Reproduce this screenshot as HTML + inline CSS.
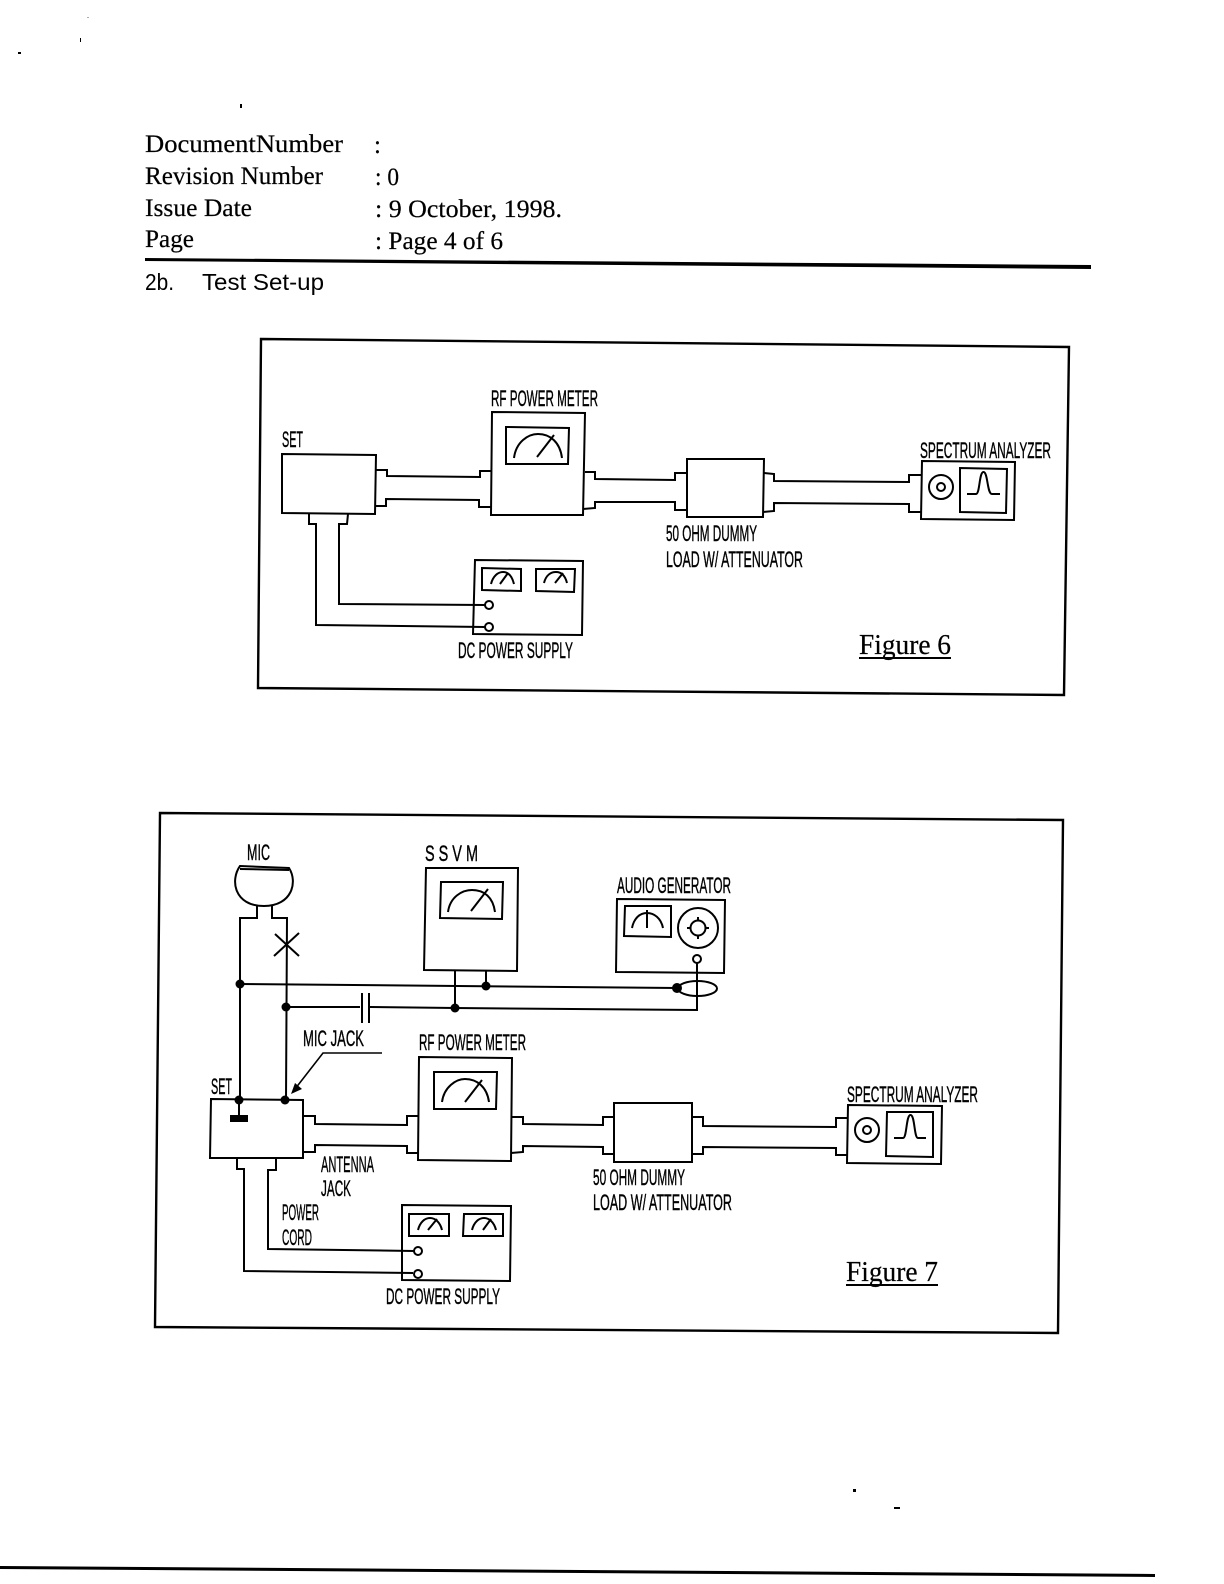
<!DOCTYPE html>
<html>
<head>
<meta charset="utf-8">
<style>
html,body{margin:0;padding:0;background:#fff;width:1224px;height:1584px;overflow:hidden}
svg{display:block}
.l{fill:none;stroke:#000;stroke-width:2;stroke-linejoin:miter}
.f{fill:none;stroke:#000;stroke-width:2.4}
.t{fill:#fff;stroke:#000;stroke-width:2}
.d{fill:#000}
.c{font-family:"Liberation Sans",sans-serif;font-size:22px;fill:#000;stroke:#000;stroke-width:.4}
.s{font-family:"Liberation Serif",serif;font-size:25px;fill:#000;stroke:#000;stroke-width:.2}
.a{font-family:"Liberation Sans",sans-serif;font-size:23px;fill:#000}
</style>
</head>
<body>
<svg width="1224" height="1584" viewBox="0 0 1224 1584" xmlns="http://www.w3.org/2000/svg">
<rect width="1224" height="1584" fill="#fff"/>

<!-- specks -->
<g class="d">
<rect x="87" y="17" width="2" height="1" fill="#aaa"/>
<rect x="80" y="38" width="1" height="4"/>
<rect x="18" y="52" width="3" height="2"/>
<rect x="240" y="104" width="2" height="4"/>
<rect x="853" y="1489" width="3" height="3"/>
<rect x="894" y="1507" width="6" height="2"/>
</g>

<!-- header -->
<text class="s" x="145" y="152" textLength="198" lengthAdjust="spacingAndGlyphs">DocumentNumber</text>
<text class="s" x="145" y="184" textLength="178" lengthAdjust="spacingAndGlyphs">Revision Number</text>
<text class="s" x="145" y="216" textLength="107" lengthAdjust="spacingAndGlyphs">Issue Date</text>
<text class="s" x="145" y="247" textLength="49" lengthAdjust="spacingAndGlyphs">Page</text>
<text class="s" x="374" y="153">:</text>
<text class="s" x="375" y="185" textLength="24" lengthAdjust="spacingAndGlyphs">: 0</text>
<text class="s" x="375" y="217" textLength="187" lengthAdjust="spacingAndGlyphs">: 9 October, 1998.</text>
<text class="s" x="375" y="249" textLength="128" lengthAdjust="spacingAndGlyphs">: Page 4 of 6</text>
<polygon class="d" points="145,258 1091,265 1091,269 145,261"/>
<text class="a" x="145" y="290" textLength="29" lengthAdjust="spacingAndGlyphs">2b.</text>
<text class="a" x="202" y="290" textLength="122" lengthAdjust="spacingAndGlyphs">Test Set-up</text>

<!-- FIGURE 6 -->
<polygon class="f" points="261,339 1069,347 1064,695 258,688"/>

<text class="c" x="282" y="447" textLength="21" lengthAdjust="spacingAndGlyphs">SET</text>
<polygon class="l" points="282,454 376,455 375,514 282,513"/>
<polyline class="l" points="376,470 387,470 387,476 480,477 480,471 491,471"/>
<polyline class="l" points="376,506 386,506 386,499 479,500 479,507 491,507"/>

<text class="c" x="491" y="406" textLength="107" lengthAdjust="spacingAndGlyphs">RF POWER METER</text>
<polygon class="l" points="492,412 585,413 583,515 491,515"/>
<polygon class="l" points="506,427 569,428 568,464 506,464"/>
<path class="l" d="M514,458 C516,442 528,434 538,434 C550,434 560,442 562,458"/>
<line class="l" x1="537" y1="457" x2="554" y2="435"/>

<polyline class="l" points="585,472 595,472 595,479 675,480 675,473 687,473"/>
<polyline class="l" points="583,509 595,508 595,502 675,502 675,510 687,510"/>
<polygon class="l" points="687,459 764,459 763,517 687,517"/>
<text class="c" x="666" y="541" textLength="91" lengthAdjust="spacingAndGlyphs">50 OHM DUMMY</text>
<text class="c" x="666" y="567" textLength="137" lengthAdjust="spacingAndGlyphs">LOAD W/ ATTENUATOR</text>

<polyline class="l" points="764,473 774,474 774,481 909,482 909,475 921,475"/>
<polyline class="l" points="763,512 774,511 774,503 909,504 909,512 921,512"/>

<text class="c" x="920" y="458" textLength="131" lengthAdjust="spacingAndGlyphs">SPECTRUM ANALYZER</text>
<polygon class="l" points="922,461 1015,462 1014,520 921,519"/>
<circle class="l" cx="941" cy="487" r="12"/>
<circle class="l" cx="941" cy="487" r="4"/>
<polygon class="l" points="960,468 1007,469 1006,513 960,512"/>
<path class="l" d="M967,494 L976,494 C980,494 979,472 983.5,472 C988,472 987,494 992,494 L1000,494"/>

<polygon class="l" points="475,560 583,561 582,635 473,634"/>
<polygon class="l" points="482,568 521,569 521,591 482,590"/>
<polygon class="l" points="536,569 575,569 574,592 536,591"/>
<path class="l" d="M491,584 C493,576 498,572 503,572 C508,572 512,576 514,584"/>
<line class="l" x1="500" y1="584" x2="508" y2="573"/>
<path class="l" d="M544,583 C546,575 551,572 556,572 C561,572 565,575 567,583"/>
<line class="l" x1="555" y1="583" x2="563" y2="573"/>
<polyline class="l" points="309,514 309,524 316,524 316,625 485,627"/>
<polyline class="l" points="348,514 347,524 339,524 339,604 485,605"/>
<circle class="t" cx="489" cy="605" r="4"/>
<circle class="t" cx="489" cy="627" r="4"/>
<text class="c" x="458" y="658" textLength="115" lengthAdjust="spacingAndGlyphs">DC POWER SUPPLY</text>

<text class="s" x="859" y="654" style="font-size:28px" textLength="92" lengthAdjust="spacingAndGlyphs">Figure 6</text>
<line class="l" x1="859" y1="658" x2="951" y2="658"/>

<!-- FIGURE 7 -->
<polygon class="f" points="160,813 1063,820 1058,1333 155,1327"/>

<text class="c" x="247" y="860" textLength="23" lengthAdjust="spacingAndGlyphs">MIC</text>
<path class="l" d="M240,866 L289,868 C298,882 292,906 264,906 C234,906 230,880 240,866 Z"/>
<line class="l" x1="240" y1="869" x2="289" y2="870"/>
<polyline class="l" points="257,906 257,918 240,918 240,1100"/>
<polyline class="l" points="272,906 272,918 287,918 286,1100"/>
<line class="l" x1="275" y1="934" x2="299" y2="956"/>
<line class="l" x1="299" y1="933" x2="274" y2="956"/>

<line class="l" x1="240" y1="984" x2="677" y2="988"/>
<line class="l" x1="286" y1="1007" x2="360" y2="1007"/>
<line class="l" x1="362" y1="993" x2="362" y2="1023"/>
<line class="l" x1="369" y1="993" x2="369" y2="1023"/>
<polyline class="l" points="370,1007 455,1008 697,1010 697,963"/>
<ellipse class="l" cx="697.5" cy="988.5" rx="19.5" ry="7.5"/>
<line class="l" x1="486" y1="971" x2="486" y2="986"/>
<line class="l" x1="455" y1="971" x2="455" y2="1008"/>
<g class="d">
<circle cx="240" cy="984" r="4.5"/>
<circle cx="286" cy="1007" r="4.5"/>
<circle cx="455" cy="1008" r="4.5"/>
<circle cx="486" cy="986" r="4.5"/>
<circle cx="677" cy="988" r="5"/>
<circle cx="239" cy="1100" r="4.5"/>
<circle cx="285" cy="1100" r="4.5"/>
</g>

<text class="c" x="425" y="861" textLength="53" lengthAdjust="spacingAndGlyphs">S S V M</text>
<polygon class="l" points="426,868 518,868 517,971 424,970"/>
<polygon class="l" points="441,882 503,882 502,919 440,918"/>
<path class="l" d="M448,912 C450,897 462,890 472,890 C484,890 493,897 495,912"/>
<line class="l" x1="471" y1="911" x2="488" y2="889"/>

<text class="c" x="617" y="893" textLength="114" lengthAdjust="spacingAndGlyphs">AUDIO GENERATOR</text>
<polygon class="l" points="617,899 725,900 724,973 616,972"/>
<polygon class="l" points="625,906 671,906 671,937 624,936"/>
<path class="l" d="M632,928 C634,918 640,913 647,913 C654,913 661,918 663,928"/>
<line class="l" x1="647" y1="910" x2="647" y2="928"/>
<circle class="l" cx="698" cy="928" r="20"/>
<circle class="l" cx="698" cy="928" r="7.5"/>
<path class="l" d="M698,917 V921 M698,935 V939 M687,928 H691 M705,928 H709" />
<circle class="t" cx="697" cy="959" r="4"/>

<text class="c" x="303" y="1046" textLength="61" lengthAdjust="spacingAndGlyphs">MIC JACK</text>
<polyline class="l" style="stroke-width:1.6" points="382,1053 323,1053 295,1089"/>
<polygon class="d" points="291,1094 295,1083 302,1089"/>

<text class="c" x="211" y="1094" textLength="21" lengthAdjust="spacingAndGlyphs">SET</text>
<polygon class="l" points="211,1099 303,1100 303,1158 210,1158"/>
<line class="l" x1="239" y1="1100" x2="239" y2="1115"/>
<rect class="d" x="230" y="1115" width="18" height="7"/>

<polyline class="l" points="303,1116 315,1116 315,1124 407,1125 407,1116 419,1116"/>
<polyline class="l" points="303,1152 315,1152 315,1145 407,1146 407,1153 418,1153"/>

<text class="c" x="419" y="1050" textLength="107" lengthAdjust="spacingAndGlyphs">RF POWER METER</text>
<polygon class="l" points="419,1057 512,1058 511,1161 418,1160"/>
<polygon class="l" points="434,1072 497,1072 496,1109 434,1109"/>
<path class="l" d="M442,1102 C444,1087 456,1079 465,1079 C477,1079 487,1087 489,1102"/>
<line class="l" x1="465" y1="1102" x2="482" y2="1080"/>

<polyline class="l" points="512,1117 523,1117 523,1124 603,1125 603,1117 614,1117"/>
<polyline class="l" points="511,1153 523,1152 523,1146 603,1147 603,1154 614,1154"/>
<polygon class="l" points="614,1103 692,1103 692,1162 614,1162"/>
<text class="c" x="593" y="1185" textLength="92" lengthAdjust="spacingAndGlyphs">50 OHM DUMMY</text>
<text class="c" x="593" y="1210" textLength="139" lengthAdjust="spacingAndGlyphs">LOAD W/ ATTENUATOR</text>

<polyline class="l" points="692,1117 703,1117 703,1126 836,1127 836,1118 847,1118"/>
<polyline class="l" points="692,1154 703,1154 703,1147 836,1148 836,1155 847,1155"/>

<text class="c" x="847" y="1102" textLength="131" lengthAdjust="spacingAndGlyphs">SPECTRUM ANALYZER</text>
<polygon class="l" points="848,1105 942,1106 941,1164 847,1163"/>
<circle class="l" cx="867" cy="1130" r="12"/>
<circle class="l" cx="867" cy="1130" r="4"/>
<polygon class="l" points="887,1112 933,1112 933,1157 886,1156"/>
<path class="l" d="M894,1138 L903,1138 C907,1138 906,1115 910.5,1115 C915,1115 914,1138 918,1138 L926,1138"/>

<text class="c" x="321" y="1172" textLength="53" lengthAdjust="spacingAndGlyphs">ANTENNA</text>
<text class="c" x="321" y="1196" textLength="30" lengthAdjust="spacingAndGlyphs">JACK</text>
<text class="c" x="282" y="1220" textLength="37" lengthAdjust="spacingAndGlyphs">POWER</text>
<text class="c" x="282" y="1245" textLength="30" lengthAdjust="spacingAndGlyphs">CORD</text>

<polygon class="l" points="402,1205 511,1206 510,1281 402,1280"/>
<polygon class="l" points="409,1214 449,1214 449,1236 409,1236"/>
<polygon class="l" points="464,1214 503,1214 503,1236 463,1236"/>
<path class="l" d="M418,1230 C420,1222 425,1218 430,1218 C435,1218 440,1222 442,1230"/>
<line class="l" x1="428" y1="1230" x2="437" y2="1219"/>
<path class="l" d="M472,1230 C474,1222 479,1218 484,1218 C489,1218 494,1222 496,1230"/>
<line class="l" x1="483" y1="1230" x2="491" y2="1219"/>
<polyline class="l" points="237,1158 237,1169 244,1169 244,1271 413,1273"/>
<polyline class="l" points="276,1158 276,1170 268,1170 268,1249 414,1251"/>
<circle class="t" cx="418" cy="1251" r="4"/>
<circle class="t" cx="418" cy="1274" r="4"/>
<text class="c" x="386" y="1304" textLength="114" lengthAdjust="spacingAndGlyphs">DC POWER SUPPLY</text>

<text class="s" x="846" y="1281" style="font-size:28px" textLength="92" lengthAdjust="spacingAndGlyphs">Figure 7</text>
<line class="l" x1="846" y1="1285" x2="938" y2="1285"/>

<!-- bottom rule -->
<polygon class="d" points="0,1566 1155,1574 1155,1577 0,1569"/>
</svg>
</body>
</html>
